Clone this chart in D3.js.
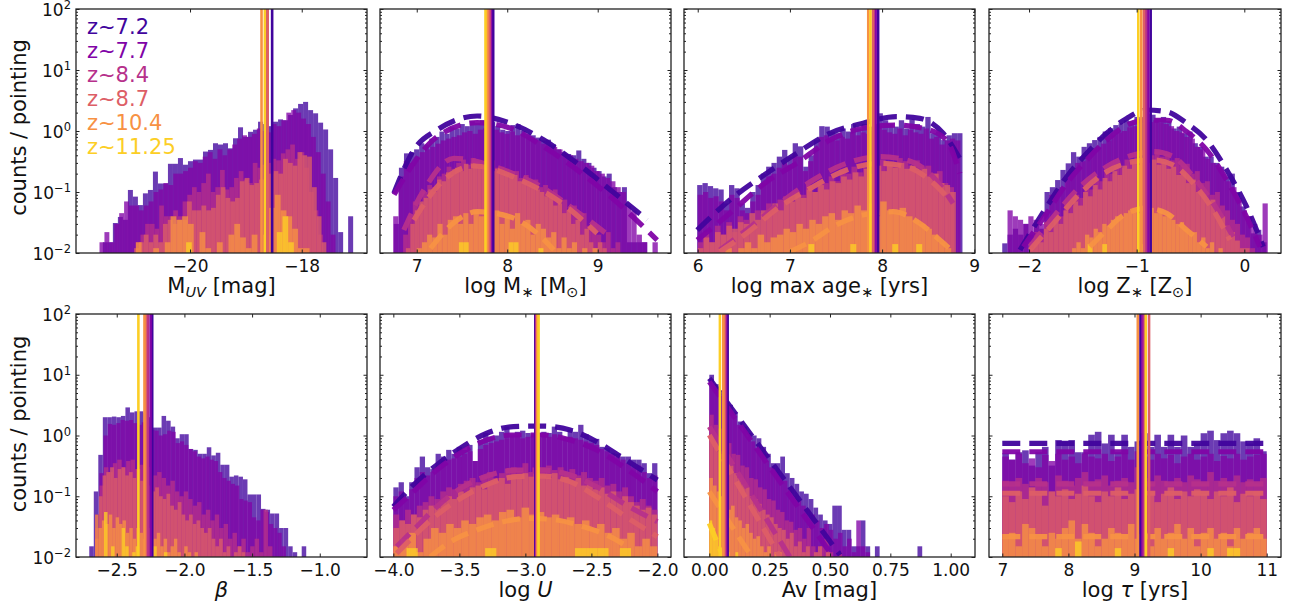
<!DOCTYPE html>
<html>
<head>
<meta charset="utf-8">
<script src="https://cdn.jsdelivr.net/npm/d3@7"></script>
<style>
  body { margin: 0; background: #fff; }
  text { font-family: "DejaVu Sans", sans-serif; }
</style>
</head>
<body>
<svg id="chart" width="1299" height="610"></svg>
<script>
// ---------------- data ----------------
const redshiftLabels = ["z~7.2", "z~7.7", "z~8.4", "z~8.7", "z~10.4", "z~11.25"];

// Absolute UV magnitude
const muvRange = [[-21.56,-17.08],[-21.62,-17.22],[-20.97,-17.62],[-21.0,-17.56],[-20.97,-17.86],[-20.07,-18.04]];
const muvCounts = [
  [0.015,0.015,0.031,0.039,0.035,0.108,0.084,0.061,0.095,0.108,0.216,0.138,0.138,0.29,0.29,0.36,0.28,0.32,0.34,0.34,0.46,0.49,0.63,0.60,0.63,0.52,0.76,1.15,0.8,0.97,1.05,1.42,1.3,1.2,1.42,1.55,1.5,1.83,2.35,2.78,3.0,2.2,1.95,1.37,1.06,0.5,0.17,0.022,0,0.04],
  [0.015,0.022,0.015,0.03,0.045,0.07,0.06,0.06,0.05,0.06,0.07,0.1,0.11,0.14,0.13,0.2,0.2,0.22,0.25,0.32,0.3,0.38,0.45,0.35,0.5,0.4,0.5,0.6,0.75,0.85,0.8,0.9,1.1,1.0,0.95,1.3,1.2,1.5,2.0,2.2,2.0,1.6,1.3,0.8,0.45,0.2,0.07,0.02,0,0],
  [0.015,0.02,0.03,0.03,0.025,0.06,0.04,0.04,0.05,0.04,0.07,0.09,0.12,0.1,0.14,0.2,0.1,0.12,0.23,0.11,0.12,0.17,0.22,0.16,0.14,0.3,0.25,0.28,0.3,0.35,0.33,0.43,0.5,0.6,0.35,0.45,0.25,0.1,0.05,0.02],
  [0.012,0.015,0.02,0.015,0.02,0.015,0.03,0.035,0.03,0.035,0.035,0.07,0.05,0.05,0.06,0.05,0.055,0.09,0.12,0.08,0.07,0.08,0.15,0.17,0.13,0.14,0.16,0.18,0.2,0.22,0.2,0.35,0.3,0.27,0.45,0.4,0.38,0.12,0.04,0.015],
  [0.015,0,0,0.012,0,0.015,0.04,0.035,0.04,0.03,0,0.022,0.012,0,0.015,0,0.02,0.03,0.018,0.012,0.02,0,0.02,0.055,0.09,0.05,0.04,0.025,0.012,0.012],
  [0.015,0,0,0,0,0,0,0,0,0,0,0,0,0,0,0,0.022,0.04,0.015,0]
];
const muvMedian = [-18.53,-18.62,-18.64,-18.61,-18.72,-18.66];

// Stellar mass
const massRange = [[6.747,9.547],[6.74,9.664],[6.85,9.25],[6.88,9.1],[7.0,9.0],[7.3,8.4]];
const massCounts = [
  [0.03,0.25,0.43,0.45,0.5,0.63,0.6,0.75,0.8,0.98,0.9,1.15,1.1,1.3,1.2,1.45,1.35,1.5,1.3,1.4,1.2,1.05,1.0,1.25,1.3,1.0,0.9,0.85,0.78,0.7,0.72,0.6,0.5,0.45,0.42,0.4,0.48,0.35,0.3,0.25,0.22,0.18,0.2,0.12,0.1,0.12,0.015,0.015,0.015,0.015],
  [0.04,0.18,0.32,0.3,0.38,0.45,0.5,0.55,0.62,0.7,0.75,0.8,0.85,0.95,1.0,0.9,1.05,1.1,1.0,1.05,0.95,0.9,0.98,0.85,0.9,0.8,0.75,0.7,0.62,0.6,0.55,0.5,0.42,0.4,0.35,0.32,0.3,0.27,0.22,0.2,0.17,0.15,0.12,0.1,0.06,0.05,0.02,0.015,0,0.015],
  [0.02,0.04,0.07,0.06,0.1,0.13,0.12,0.18,0.2,0.26,0.24,0.3,0.34,0.28,0.36,0.32,0.27,0.31,0.33,0.25,0.26,0.24,0.2,0.22,0.17,0.19,0.14,0.16,0.12,0.13,0.09,0.11,0.08,0.075,0.05,0.06,0.04,0.045,0.028,0.03,0.02,0.015,0.022,0.012,0.015],
  [0.012,0.03,0.05,0.07,0.08,0.11,0.1,0.16,0.15,0.21,0.19,0.25,0.22,0.29,0.24,0.3,0.25,0.27,0.26,0.22,0.24,0.2,0.21,0.17,0.19,0.15,0.16,0.13,0.12,0.11,0.1,0.085,0.08,0.06,0.065,0.045,0.05,0.03,0.035,0.02,0.025,0.015,0.012,0.015,0.012],
  [0.012,0.015,0.02,0.018,0.03,0.02,0.035,0.04,0.03,0.045,0.03,0.05,0.04,0.045,0.035,0.05,0.03,0.04,0.025,0.045,0.03,0.035,0.02,0.03,0.025,0.018,0.022,0.012,0.018,0.012,0.015,0,0.012,0,0.012],
  [0,0,0,0.015,0.015,0,0,0,0,0,0,0,0,0.015,0.015,0,0,0,0,0.012]
];
const massMedian = [7.845,7.82,7.81,7.80,7.78,7.76];
const massFit = [
  [[6.747,0.095],[6.968,0.49],[7.226,1.04],[7.668,1.76],[8.036,1.34],[8.405,0.71],[8.773,0.295],[9.141,0.108],[9.547,0.035]],
  [[6.75,0.09],[7.0,0.35],[7.226,0.81],[7.668,1.37],[8.036,1.11],[8.405,0.55],[8.773,0.23],[9.141,0.084],[9.657,0.0163]],
  [[6.857,0.0238],[7.079,0.108],[7.41,0.357],[7.962,0.23],[8.405,0.115],[8.773,0.0475],[9.141,0.0185]],
  [[6.968,0.0347],[7.226,0.122],[7.631,0.267],[8.147,0.157],[8.552,0.074],[8.994,0.021]],
  [[7.152,0.0119],[7.41,0.0314],[7.668,0.0475],[8.036,0.039],[8.331,0.021],[8.515,0.0112]],
  null
];

// Maximum stellar age
const ageRange = [[5.994,8.872],[6.0,8.85],[6.0,8.78],[6.0,8.8],[6.3,8.75],[7.2,8.5]];
const ageCounts = [
  [0.13,0.14,0.125,0.115,0.11,0.065,0.13,0.115,0.065,0.055,0.1,0.13,0.2,0.26,0.3,0.38,0.49,0.38,0.63,0.56,0.26,0.4,0.71,1.2,1.18,0.98,0.92,1.1,0.98,1.3,1.1,1.3,1.18,1.3,1.95,1.5,1.3,1.18,1.5,1.1,1.55,1.3,1.18,1.7,0.92,0.98,0.71,0.85,0.92,0.92],
  [0.09,0.1,0.08,0.085,0.07,0.05,0.09,0.08,0.05,0.045,0.07,0.09,0.14,0.18,0.2,0.25,0.3,0.28,0.4,0.38,0.22,0.32,0.5,0.8,0.85,0.75,0.7,0.8,0.75,0.95,0.85,0.95,0.9,1.0,1.2,1.05,0.95,0.9,1.1,0.85,1.05,0.95,0.9,1.1,0.75,0.8,0.6,0.7,0.75,0.7],
  [0.015,0.022,0.015,0.028,0.02,0.032,0.022,0.04,0.035,0.03,0.05,0.045,0.065,0.05,0.075,0.085,0.07,0.1,0.09,0.13,0.1,0.15,0.14,0.18,0.15,0.22,0.2,0.26,0.21,0.3,0.27,0.25,0.34,0.3,0.28,0.36,0.32,0.27,0.33,0.26,0.27,0.2,0.22,0.14,0.12],
  [0.012,0.018,0.015,0.022,0.02,0.028,0.025,0.032,0.03,0.045,0.035,0.05,0.045,0.065,0.05,0.075,0.07,0.09,0.08,0.11,0.1,0.13,0.11,0.15,0.14,0.18,0.16,0.21,0.18,0.24,0.2,0.27,0.22,0.28,0.25,0.3,0.24,0.27,0.22,0.24,0.18,0.2,0.14,0.13,0.1],
  [0.012,0,0.012,0.015,0.012,0.02,0.015,0.018,0.02,0.025,0.022,0.03,0.025,0.035,0.03,0.04,0.045,0.035,0.05,0.045,0.06,0.05,0.065,0.04,0.07,0.05,0.045,0.055,0.04,0.035,0.03,0.025,0.02,0.015,0.012],
  [0.014,0,0,0,0,0,0,0.014,0,0,0,0,0,0,0.014,0,0,0,0.014,0]
];
const ageMedian = [7.957,7.93,7.91,7.90,7.85,7.874];
const ageFit = [
  [[5.994,0.0238],[6.348,0.074],[6.746,0.202],[7.072,0.43],[7.433,0.917],[7.794,1.34],[8.156,1.72],[8.409,1.61],[8.662,0.917],[8.872,0.295]],
  [[5.994,0.0163],[6.348,0.0447],[6.746,0.147],[7.072,0.295],[7.433,0.71],[7.794,1.11],[8.156,1.25],[8.445,1.11],[8.698,0.71],[8.843,0.202]],
  [[6.24,0.0112],[6.529,0.0238],[6.89,0.0653],[7.252,0.157],[7.614,0.295],[7.975,0.38],[8.265,0.335],[8.553,0.178],[8.77,0.0653]],
  [[6.24,0.0105],[6.529,0.021],[6.89,0.0574],[7.252,0.122],[7.614,0.23],[7.975,0.295],[8.265,0.26],[8.517,0.157],[8.734,0.074]],
  [[6.999,0.0105],[7.252,0.0163],[7.469,0.027],[7.794,0.042],[8.12,0.0475],[8.409,0.0306],[8.626,0.0163],[8.77,0.0105]],
  null
];

// Stellar metallicity
const metalRange = [[-2.249,0.207],[-2.2,0.218],[-2.0,0.1],[-2.0,0.05],[-1.6,-0.2],[-1.5,-0.6]];
const metalCounts = [
  [0.0144,0.02,0.025,0.02,0.03,0.02,0.03,0.025,0.1,0.12,0.157,0.23,0.295,0.45,0.38,0.55,0.63,0.71,0.8,0.98,1.11,1.25,1.34,1.5,1.45,1.7,1.7,1.95,1.85,1.6,1.7,1.45,1.1,1.18,0.92,0.98,0.63,0.55,0.38,0.38,0.3,0.26,0.18,0.2,0.1,0.058,0.04,0.021,0.024,0.015],
  [0.05,0.04,0.035,0.03,0.04,0.035,0.03,0.045,0.09,0.1,0.12,0.17,0.22,0.3,0.32,0.4,0.5,0.55,0.62,0.7,0.85,0.95,1.0,1.15,1.2,1.3,1.35,1.4,1.5,1.35,1.3,1.2,1.0,0.95,0.8,0.75,0.55,0.5,0.35,0.3,0.25,0.2,0.15,0.12,0.08,0.05,0.04,0.03,0.02,0.065],
  [0.015,0.022,0.02,0.032,0.028,0.045,0.04,0.065,0.06,0.09,0.08,0.12,0.11,0.17,0.15,0.22,0.2,0.28,0.25,0.34,0.32,0.42,0.36,0.48,0.4,0.46,0.38,0.42,0.33,0.36,0.27,0.29,0.2,0.22,0.14,0.15,0.09,0.1,0.06,0.05,0.035,0.03,0.02,0.018,0.012],
  [0.012,0.018,0.015,0.025,0.022,0.035,0.03,0.05,0.045,0.07,0.06,0.1,0.085,0.13,0.11,0.17,0.15,0.22,0.19,0.27,0.24,0.33,0.28,0.35,0.3,0.34,0.28,0.31,0.24,0.26,0.19,0.21,0.14,0.16,0.1,0.11,0.07,0.075,0.045,0.04,0.028,0.022,0.016,0.012,0.012],
  [0.012,0.015,0.012,0.02,0.018,0.025,0.022,0.03,0.028,0.035,0.04,0.038,0.045,0.05,0.055,0.045,0.06,0.05,0.055,0.045,0.05,0.04,0.045,0.035,0.03,0.032,0.025,0.02,0.022,0.015,0.018,0.012,0.015,0,0.012],
  [0,0.014,0,0,0.014,0,0,0,0,0,0,0,0.014,0,0,0,0,0,0,0]
];
const metalMedian = [-0.87,-0.892,-0.913,-0.932,-0.957,-0.985];
const metalFit = [
  [[-2.084,0.0112],[-1.991,0.021],[-1.836,0.0574],[-1.65,0.178],[-1.464,0.43],[-1.279,0.917],[-1.093,1.61],[-0.907,2.21],[-0.721,2.07],[-0.536,1.34],[-0.35,0.71],[-0.164,0.23],[0.021,0.0574],[0.176,0.0127]],
  [[-2.053,0.0127],[-1.836,0.0447],[-1.65,0.139],[-1.464,0.335],[-1.279,0.71],[-1.093,1.25],[-0.907,1.5],[-0.721,1.5],[-0.536,0.98],[-0.35,0.49],[-0.164,0.157],[0.021,0.039],[0.145,0.0127]],
  [[-1.991,0.0127],[-1.774,0.039],[-1.526,0.122],[-1.279,0.26],[-1.031,0.405],[-0.846,0.458],[-0.66,0.38],[-0.474,0.178],[-0.289,0.0653],[-0.103,0.0185]],
  [[-1.991,0.0112],[-1.774,0.0306],[-1.526,0.095],[-1.279,0.215],[-1.031,0.314],[-0.846,0.335],[-0.66,0.277],[-0.474,0.139],[-0.289,0.0507],[-0.134,0.0163]],
  [[-1.434,0.0127],[-1.279,0.0238],[-1.093,0.0447],[-0.907,0.054],[-0.721,0.0447],[-0.536,0.0238],[-0.35,0.0127]],
  null
];

// UV slope beta
const betaRange = [[-2.703,-1.10],[-2.66,-1.25],[-2.66,-1.35],[-2.66,-1.55],[-2.66,-1.9],[-2.62,-2.1]];
const betaCounts = [
  [0.015,0.12,0.48,2.0,2.0,2.05,2.0,2.1,2.9,2.4,2.5,2.5,2.33,2.0,1.35,1.35,2.1,1.75,1.4,0.9,1.05,1.05,0.6,0.58,0.5,0.5,0.64,0.47,0.52,0.33,0.33,0.21,0.22,0.21,0.19,0.107,0.107,0.107,0.062,0.06,0.052,0.052,0.03,0.03,0.015,0.012,0,0.015],
  [0.05,0.24,1.0,1.55,1.5,1.6,1.8,1.75,1.8,1.6,1.5,1.65,1.4,1.25,1.2,1.0,1.05,1.2,1.15,0.75,0.8,0.7,0.6,0.55,0.45,0.42,0.45,0.4,0.38,0.25,0.2,0.18,0.16,0.15,0.09,0.085,0.08,0.045,0.04,0.06,0.055,0.035,0.03,0.025,0.015],
  [0.03,0.15,0.3,0.25,0.35,0.4,0.3,0.38,0.4,0.28,0.33,0.35,0.3,0.22,0.25,0.2,0.15,0.18,0.12,0.1,0.12,0.09,0.07,0.08,0.05,0.06,0.04,0.05,0.03,0.035,0.02,0.025,0.015,0.02,0.012,0.015,0.02,0.012,0.06,0.015],
  [0.02,0.1,0.22,0.25,0.3,0.2,0.28,0.3,0.22,0.25,0.2,0.28,0.18,0.2,0.15,0.12,0.14,0.1,0.09,0.11,0.07,0.06,0.08,0.05,0.04,0.05,0.035,0.04,0.03,0.025,0.03,0.02,0.015,0.02,0.012,0.015,0,0.012,0.015,0.012],
  [0.05,0.03,0.04,0.035,0.05,0.03,0.045,0.035,0.04,0.025,0.03,0.02,0.03,0.025,0.02,0.03,0.015,0.02,0.025,0.015,0.02,0.012,0.015,0.02,0.012,0,0.015,0.012,0,0.012],
  [0,0.055,0,0.015,0,0,0.03,0.015,0,0.012,0.015,0,0,0,0,0.015,0,0,0.012,0]
];
const betaMedian = [-2.238,-2.25,-2.27,-2.285,-2.295,-2.34];

// Ionisation parameter
const logURange = [[-4,-2],[-4,-2],[-4,-2],[-4,-2],[-4,-2],[-3.9,-2.2]];
const logUCounts = [
  [0.14,0.17,0.1,0.17,0.3,0.45,0.3,0.28,0.5,0.45,0.58,0.5,0.65,0.58,0.7,0.38,0.85,1.1,0.95,1.0,1.15,1.4,1.05,1.15,1.2,1.1,1.05,1.1,1.15,1.1,1.4,1.15,0.95,1.25,1.15,1.5,1.05,0.85,0.88,0.65,0.62,0.52,0.5,0.45,0.45,0.4,0.4,0.35,0.24,0.35],
  [0.1,0.12,0.09,0.13,0.2,0.25,0.22,0.25,0.3,0.35,0.4,0.42,0.45,0.5,0.55,0.38,0.6,0.7,0.75,0.8,0.85,0.9,0.95,1.0,0.9,0.95,1.0,0.92,1.0,0.95,1.05,0.9,0.85,0.95,0.9,0.85,0.8,0.75,0.7,0.6,0.55,0.5,0.45,0.4,0.35,0.3,0.32,0.25,0.2,0.22],
  [0.05,0.04,0.06,0.05,0.07,0.08,0.1,0.09,0.12,0.14,0.13,0.16,0.18,0.2,0.17,0.22,0.25,0.2,0.24,0.28,0.3,0.26,0.35,0.25,0.28,0.3,0.32,0.27,0.3,0.25,0.28,0.22,0.25,0.2,0.18,0.2,0.15,0.16,0.12,0.14,0.1,0.08,0.09,0.07,0.06],
  [0.03,0.04,0.035,0.05,0.045,0.06,0.07,0.065,0.08,0.1,0.09,0.12,0.11,0.14,0.15,0.13,0.17,0.18,0.2,0.16,0.22,0.2,0.24,0.21,0.25,0.22,0.2,0.24,0.19,0.21,0.18,0.2,0.15,0.17,0.13,0.14,0.11,0.12,0.09,0.1,0.08,0.07,0.06,0.065,0.05],
  [0.015,0.02,0.025,0.012,0.02,0.03,0.025,0.035,0.03,0.04,0.035,0.045,0.05,0.04,0.055,0.06,0.045,0.065,0.05,0.055,0.045,0.05,0.04,0.045,0.035,0.04,0.03,0.035,0.025,0.03,0.02,0.025,0.015,0.02,0.015],
  [0.014,0,0,0,0,0,0,0.014,0,0,0,0,0,0,0,0.014,0.014,0.014,0,0.014]
];
const logUMedian = [-2.925,-2.92,-2.915,-2.912,-2.908,-2.9];
const logUFit = [
  [[-4.0,0.0673],[-3.848,0.153],[-3.671,0.327],[-3.495,0.615],[-3.292,1.09],[-3.091,1.4],[-2.864,1.43],[-2.661,1.23],[-2.459,0.79],[-2.258,0.421],[-2.0,0.185]],
  [[-4.0,0.0594],[-3.848,0.119],[-3.671,0.27],[-3.495,0.509],[-3.292,0.843],[-3.091,1.02],[-2.864,1.02],[-2.661,0.843],[-2.459,0.577],[-2.258,0.307],[-2.0,0.119]],
  [[-3.974,0.0148],[-3.823,0.0315],[-3.671,0.0673],[-3.47,0.143],[-3.267,0.224],[-3.065,0.27],[-2.864,0.27],[-2.661,0.224],[-2.459,0.143],[-2.258,0.0766],[-2.0,0.0381]],
  [[-3.974,0.0115],[-3.823,0.0245],[-3.671,0.0491],[-3.47,0.098],[-3.267,0.163],[-3.065,0.21],[-2.864,0.215],[-2.661,0.174],[-2.459,0.098],[-2.258,0.0491],[-2.0,0.0216]],
  [[-3.722,0.01],[-3.545,0.019],[-3.368,0.0278],[-3.167,0.0381],[-2.964,0.0433],[-2.762,0.0406],[-2.561,0.0315],[-2.358,0.0216],[-2.207,0.0139]],
  null
];

// Dust attenuation
const avRange = [[0,0.882],[0,0.666],[0,0.55],[0,0.5],[0,0.3],[0,0.12]];
const avCounts = [
  [10,7.0,5.5,4.0,3.2,2.4,1.7,1.4,1.1,1.0,0.9,0.65,0.5,0.35,0.35,0.45,0.24,0.2,0.16,0.12,0.11,0.09,0.065,0.05,0.04,0.035,0.07,0.07,0.028,0.028,0.015,0.015,0.04,0.015,0,0.015,0,0,0,0,0,0,0,0,0.015],
  [8.5,6.0,4.5,3.4,2.6,2.0,1.5,1.2,0.95,0.8,0.6,0.5,0.38,0.3,0.25,0.22,0.18,0.14,0.1,0.09,0.07,0.06,0.05,0.04,0.03,0.035,0.028,0.02,0.025,0.015,0.02,0.012,0.04,0.015,0.012],
  [2.2,1.5,1.3,0.85,0.75,0.5,0.48,0.32,0.3,0.2,0.19,0.14,0.13,0.09,0.085,0.06,0.055,0.04,0.038,0.028,0.03,0.02,0.03,0.015,0.012,0.015,0.02,0.012,0,0.012],
  [1.0,0.8,0.55,0.5,0.36,0.32,0.24,0.2,0.16,0.14,0.1,0.09,0.075,0.06,0.05,0.045,0.035,0.03,0.028,0.02,0.025,0.015,0.018,0.012,0.015,0,0.012,0.015,0,0.012],
  [0.2,0.15,0.12,0.1,0.08,0.06,0.07,0.045,0.04,0.03,0.035,0.025,0.02,0.022,0.015,0.012,0.015,0,0.012,0.012],
  [0.04,0.03,0.02,0.015,0.012,0,0.012,0,0,0.012]
];
const avMedian = [0.076,0.07,0.066,0.062,0.058,0.044];
const avFit = [
  [[0,8.73],[0.542,0.0108]],
  [[0,7.69],[0.514,0.01]],
  [[0,1.4],[0.334,0.01]],
  [[0,1.02],[0.293,0.01]],
  [[0,0.119],[0.176,0.01]],
  [[0,0.0359],[0.058,0.01]]
];

// Star-formation timescale
const tauRange = [[7,11],[7,11],[7,11],[7,11],[7,11],[7,11]];
const tauCounts = [
  [0.51,0.4,0.53,0.57,0.32,0.53,0.65,0.32,0.84,0.8,0.84,0.53,0.53,1.03,1.15,0.74,1.03,0.53,1.03,0.65,0.8,1.09,0.65,1.03,0.65,1.03,0.65,1.0,0.65,0.74,1.09,1.2,0.84,1.09,1.2,1.09,0.8,0.74,0.9,0.55],
  [0.45,0.4,0.5,0.35,0.42,0.3,0.48,0.38,0.5,0.4,0.45,0.35,0.5,0.45,0.42,0.5,0.38,0.45,0.52,0.4,0.55,0.45,0.4,0.5,0.42,0.48,0.35,0.45,0.5,0.4,0.45,0.5,0.38,0.46,0.42,0.5,0.4,0.45,0.48,0.5],
  [0.18,0.15,0.2,0.16,0.14,0.2,0.17,0.12,0.22,0.18,0.15,0.2,0.25,0.16,0.19,0.22,0.15,0.18,0.2,0.17,0.3,0.2,0.16,0.22,0.18,0.15,0.2,0.17,0.22,0.19,0.16,0.25,0.18,0.2,0.15,0.22,0.17,0.19,0.16,0.2],
  [0.1,0.08,0.12,0.09,0.14,0.11,0.07,0.12,0.1,0.13,0.09,0.11,0.15,0.1,0.08,0.12,0.1,0.14,0.09,0.11,0.13,0.1,0.12,0.08,0.11,0.14,0.09,0.12,0.1,0.13,0.11,0.09,0.12,0.1,0.14,0.08,0.11,0.1,0.12,0.09],
  [0.02,0.025,0.015,0.035,0.03,0.02,0.015,0.025,0.02,0.03,0.04,0.02,0.035,0.025,0.015,0.02,0.03,0.025,0.02,0.035,0.02,0.025,0.015,0.03,0.02,0.025,0.035,0.02,0.03,0.015,0.025,0.03,0.02,0.025,0.015,0.03,0.02,0.025,0.03,0.02],
  [0,0,0,0,0,0,0,0,0.014,0,0,0.018,0,0,0,0,0,0.014,0,0,0,0,0,0,0,0.014,0,0,0,0,0,0.014,0,0,0.014,0.014,0,0,0,0]
];
const tauMedian = [9.09,9.12,9.14,9.22,9.05,9.17];
const tauFit = [
  [[7,0.74],[11,0.74]],
  [[7,0.54],[11,0.54]],
  [[7,0.16],[11,0.16]],
  [[7,0.112],[11,0.112]],
  [[7,0.0216],[11,0.0216]],
  null
];

// Axis ticks
const muvTicks = [-20,-18];
const massTicks = [7,8,9];
const ageTicks = [6,7,8,9];
const metalTicks = [-2,-1,0];
const betaTicks = [-2.5,-2.0,-1.5,-1.0];
const logUTicks = [-4.0,-3.5,-3.0,-2.5,-2.0];
const avTicks = [0,0.25,0.5,0.75,1.0];
const tauTicks = [7,8,9,10,11];
const countTicks = [0.01,0.1,1,10,100];
const countExponents = ["\u22122","\u22121","0","1","2"];

// ---------------- drawing ----------------
const svg = d3.select("#chart");
const colors = [0.1, 0.26, 0.42, 0.58, 0.74, 0.9].map(t => d3.interpolatePlasma(t));

const colLeft = [76, 380, 684, 989];
const colRight = [367, 671, 975, 1281];
const rowTop = [9, 314];
const rowBottom = [253, 557];

const panels = [
  { domain: [-22.041, -16.832], ticks: muvTicks, fmt: d3.format("d"), range: muvRange, counts: muvCounts, median: muvMedian, fit: null,
    label: [{t: "M"}, {t: "UV", sub: true, it: true}, {t: " [mag]"}] },
  { domain: [6.594, 9.81], ticks: massTicks, fmt: d3.format("d"), range: massRange, counts: massCounts, median: massMedian, fit: massFit,
    label: [{t: "log M"}, {t: "\u2217", sub: true}, {t: " [M"}, {t: "\u2299", sub: true}, {t: "]"}] },
  { domain: [5.851, 9.008], ticks: ageTicks, fmt: d3.format("d"), range: ageRange, counts: ageCounts, median: ageMedian, fit: ageFit,
    label: [{t: "log max age"}, {t: "\u2217", sub: true}, {t: " [yrs]"}] },
  { domain: [-2.372, 0.341], ticks: metalTicks, fmt: d3.format("d"), range: metalRange, counts: metalCounts, median: metalMedian, fit: metalFit,
    label: [{t: "log Z"}, {t: "\u2217", sub: true}, {t: " [Z"}, {t: "\u2299", sub: true}, {t: "]"}] },
  { domain: [-2.801, -0.651], ticks: betaTicks, fmt: d3.format(".1f"), range: betaRange, counts: betaCounts, median: betaMedian, fit: null,
    label: [{t: "\u03b2", it: true}] },
  { domain: [-4.101, -1.897], ticks: logUTicks, fmt: d3.format(".1f"), range: logURange, counts: logUCounts, median: logUMedian, fit: logUFit,
    label: [{t: "log "}, {t: "U", it: true}] },
  { domain: [-0.1048, 1.1007], ticks: avTicks, fmt: d3.format(".2f"), range: avRange, counts: avCounts, median: avMedian, fit: avFit,
    label: [{t: "Av [mag]"}] },
  { domain: [6.799, 11.216], ticks: tauTicks, fmt: d3.format("d"), range: tauRange, counts: tauCounts, median: tauMedian, fit: tauFit,
    label: [{t: "log "}, {t: "\u03c4", it: true}, {t: " [yrs]"}] }
];

const minorTicks = [];
[0.01, 0.1, 1, 10].forEach(b => { for (let m = 2; m <= 9; m++) minorTicks.push(b * m); });

function styleAxis(g) {
  g.select(".domain").remove();
  g.selectAll(".tick line").attr("stroke", "#222").attr("stroke-width", 1);
  g.selectAll(".tick text").attr("font-family", "DejaVu Sans").attr("font-size", 17).attr("fill", "#111");
}

panels.forEach((p, i) => {
  const col = i % 4, row = Math.floor(i / 4);
  const x0 = colLeft[col], x1 = colRight[col], y0 = rowTop[row], y1 = rowBottom[row];
  const x = d3.scaleLinear().domain(p.domain).range([x0, x1]);
  const y = d3.scaleLog().domain([0.01, 100]).range([y1, y0]);

  const clipId = "clip" + i;
  svg.append("clipPath").attr("id", clipId)
    .append("rect").attr("x", x0).attr("y", y0).attr("width", x1 - x0).attr("height", y1 - y0);
  const plot = svg.append("g").attr("clip-path", `url(#${clipId})`);

  // histograms, one per redshift bin, lowest redshift underneath
  p.counts.forEach((vals, s) => {
    const [lo, hi] = p.range[s];
    const w = (hi - lo) / vals.length;
    const bins = vals.map((v, k) => ({ v, a: lo + k * w, b: lo + (k + 1) * w })).filter(d => d.v > 0.01);
    plot.append("g").selectAll("rect").data(bins).join("rect")
      .attr("x", d => x(d.a))
      .attr("width", d => x(d.b) - x(d.a))
      .attr("y", d => y(d.v))
      .attr("height", d => y1 - y(d.v))
      .attr("fill", colors[s])
      .attr("fill-opacity", 0.78);
  });

  // fitted distributions
  if (p.fit) {
    const line = d3.line().x(d => x(d[0])).y(d => y(d[1])).curve(d3.curveMonotoneX);
    p.fit.forEach((pts, s) => {
      if (!pts) return;
      plot.append("path").attr("d", line(pts))
        .attr("fill", "none").attr("stroke", colors[s]).attr("stroke-opacity", 0.95)
        .attr("stroke-width", 5.2).attr("stroke-dasharray", "18 9");
    });
  }

  // medians
  p.median.forEach((m, s) => {
    plot.append("line")
      .attr("x1", x(m)).attr("x2", x(m)).attr("y1", y0).attr("y2", y1)
      .attr("stroke", colors[s]).attr("stroke-width", 2.6);
  });

  // axes: inward ticks on all four sides
  svg.append("g").attr("transform", `translate(0,${y1})`)
    .call(d3.axisBottom(x).tickValues(p.ticks).tickFormat(p.fmt).tickSizeInner(-3.5).tickSizeOuter(0).tickPadding(7))
    .call(styleAxis);
  svg.append("g").attr("transform", `translate(0,${y0})`)
    .call(d3.axisTop(x).tickValues(p.ticks).tickFormat("").tickSizeInner(-3.5).tickSizeOuter(0))
    .call(styleAxis);
  svg.append("g").attr("transform", `translate(${x0},0)`)
    .call(d3.axisLeft(y).tickValues(countTicks).tickFormat("").tickSizeInner(-3.5).tickSizeOuter(0))
    .call(styleAxis);
  svg.append("g").attr("transform", `translate(${x0},0)`)
    .call(d3.axisLeft(y).tickValues(minorTicks).tickFormat("").tickSizeInner(-2).tickSizeOuter(0))
    .call(styleAxis);
  svg.append("g").attr("transform", `translate(${x1},0)`)
    .call(d3.axisRight(y).tickValues(countTicks).tickFormat("").tickSizeInner(-3.5).tickSizeOuter(0))
    .call(styleAxis);
  svg.append("g").attr("transform", `translate(${x1},0)`)
    .call(d3.axisRight(y).tickValues(minorTicks).tickFormat("").tickSizeInner(-2).tickSizeOuter(0))
    .call(styleAxis);

  svg.append("rect").attr("x", x0).attr("y", y0).attr("width", x1 - x0).attr("height", y1 - y0)
    .attr("fill", "none").attr("stroke", "#222").attr("stroke-width", 1.3);

  // x-axis label
  const lab = svg.append("text").attr("x", (x0 + x1) / 2).attr("y", y1 + 40)
    .attr("text-anchor", "middle").attr("font-size", 21).attr("fill", "#111");
  let shift = 0;
  p.label.forEach(part => {
    const ts = lab.append("tspan").text(part.t);
    if (part.it) ts.attr("font-style", "italic");
    if (part.sub) { ts.attr("font-size", 14.5).attr("dy", 4 - shift); shift = 4; }
    else if (shift) { ts.attr("dy", -shift); shift = 0; }
  });

  // y tick labels and y-axis title on the left column
  if (col === 0) {
    countTicks.forEach((v, k) => {
      const t = svg.append("text").attr("x", x0 - 5).attr("y", y(v) + 6.5)
        .attr("text-anchor", "end").attr("font-size", 17).attr("fill", "#111");
      t.append("tspan").text("10");
      t.append("tspan").text(countExponents[k]).attr("font-size", 11.5).attr("dy", -6.5);
    });
    const cy = row === 0 ? 127.5 : 424;
    svg.append("text").attr("transform", `translate(26,${cy}) rotate(-90)`)
      .attr("text-anchor", "middle").attr("font-size", 21).attr("fill", "#111")
      .text("counts / pointing");
  }

  // redshift legend in the first panel
  if (i === 0) {
    redshiftLabels.forEach((lbl, s) => {
      svg.append("text").attr("x", 87).attr("y", 34.3 + s * 23.9)
        .attr("font-size", 21).attr("fill", colors[s]).text(lbl);
    });
  }
});
</script>
</body>
</html>
